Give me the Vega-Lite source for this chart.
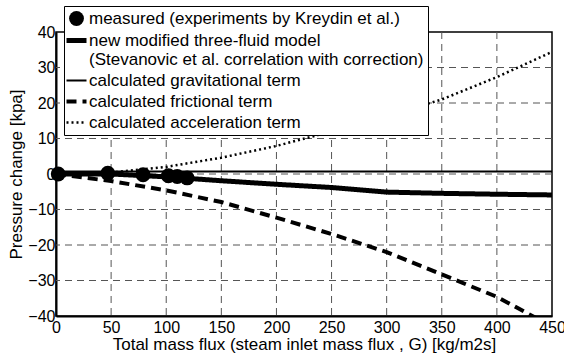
{
  "$schema": "https://vega.github.io/schema/vega-lite/v6.json",
  "width": 496,
  "height": 284,
  "autosize": {"type": "none"},
  "padding": {"left": 56, "top": 32, "right": 12, "bottom": 42},
  "config": {
    "font": "Liberation Sans",
    "view": {"stroke": "black", "strokeWidth": 1.5},
    "axis": {
      "domainColor": "black", "domainWidth": 2, "grid": false,
      "tickSize": 0,
      "labelColor": "black", "labelFontSize": 16, "labelFont": "Liberation Sans", "labelOverlap": false,
      "titleColor": "black", "titleFontSize": 17, "titleFontWeight": "normal", "titleFont": "Liberation Sans"
    }
  },
  "datasets": {
    "xgrid": [{"G": 50}, {"G": 100}, {"G": 150}, {"G": 200}, {"G": 250}, {"G": 300}, {"G": 350}, {"G": 400}],
    "ygrid": [{"dp": -30}, {"dp": -20}, {"dp": -10}, {"dp": 0}, {"dp": 10}, {"dp": 20}, {"dp": 30}],
    "lines": [
      {"G": 0, "dp": 0, "series": "new modified three-fluid model|(Stevanovic et al. correlation with correction)"},
      {"G": 50, "dp": 0, "series": "new modified three-fluid model|(Stevanovic et al. correlation with correction)"},
      {"G": 100, "dp": -0.8, "series": "new modified three-fluid model|(Stevanovic et al. correlation with correction)"},
      {"G": 150, "dp": -1.9, "series": "new modified three-fluid model|(Stevanovic et al. correlation with correction)"},
      {"G": 200, "dp": -2.9, "series": "new modified three-fluid model|(Stevanovic et al. correlation with correction)"},
      {"G": 250, "dp": -3.8, "series": "new modified three-fluid model|(Stevanovic et al. correlation with correction)"},
      {"G": 300, "dp": -5.1, "series": "new modified three-fluid model|(Stevanovic et al. correlation with correction)"},
      {"G": 350, "dp": -5.45, "series": "new modified three-fluid model|(Stevanovic et al. correlation with correction)"},
      {"G": 400, "dp": -5.7, "series": "new modified three-fluid model|(Stevanovic et al. correlation with correction)"},
      {"G": 450, "dp": -5.9, "series": "new modified three-fluid model|(Stevanovic et al. correlation with correction)"},
      {"G": 0, "dp": 0.7, "series": "calculated gravitational term"},
      {"G": 150, "dp": 0.7, "series": "calculated gravitational term"},
      {"G": 300, "dp": 0.7, "series": "calculated gravitational term"},
      {"G": 450, "dp": 0.7, "series": "calculated gravitational term"},
      {"G": 0, "dp": 0, "series": "calculated frictional term"},
      {"G": 50, "dp": -2.0, "series": "calculated frictional term"},
      {"G": 100, "dp": -4.6, "series": "calculated frictional term"},
      {"G": 150, "dp": -7.9, "series": "calculated frictional term"},
      {"G": 200, "dp": -12.3, "series": "calculated frictional term"},
      {"G": 250, "dp": -16.9, "series": "calculated frictional term"},
      {"G": 300, "dp": -22.0, "series": "calculated frictional term"},
      {"G": 350, "dp": -28.3, "series": "calculated frictional term"},
      {"G": 400, "dp": -34.6, "series": "calculated frictional term"},
      {"G": 450, "dp": -43.0, "series": "calculated frictional term"},
      {"G": 0, "dp": 0, "series": "calculated acceleration term"},
      {"G": 50, "dp": 0.4, "series": "calculated acceleration term"},
      {"G": 100, "dp": 2.0, "series": "calculated acceleration term"},
      {"G": 150, "dp": 4.6, "series": "calculated acceleration term"},
      {"G": 200, "dp": 7.9, "series": "calculated acceleration term"},
      {"G": 250, "dp": 12.0, "series": "calculated acceleration term"},
      {"G": 300, "dp": 16.3, "series": "calculated acceleration term"},
      {"G": 350, "dp": 21.0, "series": "calculated acceleration term"},
      {"G": 400, "dp": 27.3, "series": "calculated acceleration term"},
      {"G": 450, "dp": 34.4, "series": "calculated acceleration term"}
    ],
    "measured": [
      {"G": 2, "dp": 0},
      {"G": 47, "dp": 0.2},
      {"G": 79, "dp": -0.2},
      {"G": 102, "dp": -0.5},
      {"G": 110, "dp": -0.7},
      {"G": 119, "dp": -1.1}
    ]
  },
  "layer": [
    {
      "data": {"name": "xgrid"},
      "mark": {"type": "rule", "color": "#555555", "strokeWidth": 1, "strokeDash": [7, 5]},
      "encoding": {
        "x": {"field": "G", "type": "quantitative",
          "scale": {"domain": [0, 450], "nice": false},
          "axis": {"values": [0, 50, 100, 150, 200, 250, 300, 350, 400, 450], "labelPadding": 3, "titlePadding": 1, "labelFlush": false,
            "title": "Total mass flux (steam inlet mass flux , G) [kg/m2s]"}}
      }
    },
    {
      "data": {"name": "ygrid"},
      "mark": {"type": "rule", "color": "#555555", "strokeWidth": 1, "strokeDash": [7, 5]},
      "encoding": {
        "y": {"field": "dp", "type": "quantitative",
          "scale": {"domain": [-40, 40], "nice": false},
          "axis": {"values": [-40, -30, -20, -10, 0, 10, 20, 30, 40], "labelPadding": 1, "titlePadding": 2,
            "title": "Pressure change [kpa]"}}
      }
    },
    {
      "data": {"name": "lines"},
      "mark": {"type": "line", "clip": true, "color": "black", "strokeCap": "butt"},
      "encoding": {
        "x": {"field": "G", "type": "quantitative",
          "scale": {"domain": [0, 450], "nice": false},
          "axis": {"values": [0, 50, 100, 150, 200, 250, 300, 350, 400, 450], "labelPadding": 3, "titlePadding": 1, "labelFlush": false,
            "title": "Total mass flux (steam inlet mass flux , G) [kg/m2s]"}},
        "y": {"field": "dp", "type": "quantitative",
          "scale": {"domain": [-40, 40], "nice": false},
          "axis": {"values": [-40, -30, -20, -10, 0, 10, 20, 30, 40], "labelPadding": 1, "titlePadding": 2,
            "title": "Pressure change [kpa]"}},
        "strokeDash": {"field": "series", "type": "nominal",
          "scale": {
            "domain": ["measured (experiments by Kreydin et al.)",
              "new modified three-fluid model|(Stevanovic et al. correlation with correction)",
              "calculated gravitational term", "calculated frictional term", "calculated acceleration term"],
            "range": [[1, 0], [1, 0], [1, 0], [10, 6], [2, 3]]},
          "legend": {
            "title": null, "orient": "none", "legendX": 8, "legendY": -26,
            "fillColor": "white", "strokeColor": "black", "padding": 4,
            "labelOffset": 4, "rowPadding": 3,
            "labelFontSize": 17, "labelColor": "black", "labelLimit": 0, "labelFont": "Liberation Sans",
            "labelExpr": "split(datum.label, '|')",
            "symbolStrokeColor": "black",
            "symbolType": {"expr": "(datum && datum.value === 'measured (experiments by Kreydin et al.)') ? 'circle' : 'stroke'"},
            "symbolSize": {"expr": "(datum && datum.value === 'measured (experiments by Kreydin et al.)') ? 220 : 400"},
            "symbolFillColor": {"expr": "(datum && datum.value === 'measured (experiments by Kreydin et al.)') ? 'black' : 'transparent'"},
            "symbolStrokeWidth": {"expr": "!datum ? 3 : datum.value === 'measured (experiments by Kreydin et al.)' ? 0 : datum.value === 'calculated gravitational term' ? 2 : datum.value === 'calculated frictional term' ? 4 : datum.value === 'calculated acceleration term' ? 2.5 : 5"}
          }},
        "strokeWidth": {
          "condition": [
            {"test": "datum.series === 'calculated gravitational term'", "value": 2},
            {"test": "datum.series === 'calculated frictional term'", "value": 4},
            {"test": "datum.series === 'calculated acceleration term'", "value": 2.5}
          ],
          "value": 5}
      }
    },
    {
      "data": {"name": "measured"},
      "mark": {"type": "point", "filled": true, "color": "black", "size": 220, "opacity": 1},
      "encoding": {
        "x": {"field": "G", "type": "quantitative",
          "scale": {"domain": [0, 450], "nice": false},
          "axis": {"values": [0, 50, 100, 150, 200, 250, 300, 350, 400, 450], "labelPadding": 3, "titlePadding": 1, "labelFlush": false,
            "title": "Total mass flux (steam inlet mass flux , G) [kg/m2s]"}},
        "y": {"field": "dp", "type": "quantitative",
          "scale": {"domain": [-40, 40], "nice": false},
          "axis": {"values": [-40, -30, -20, -10, 0, 10, 20, 30, 40], "labelPadding": 1, "titlePadding": 2,
            "title": "Pressure change [kpa]"}}
      }
    }
  ]
}
